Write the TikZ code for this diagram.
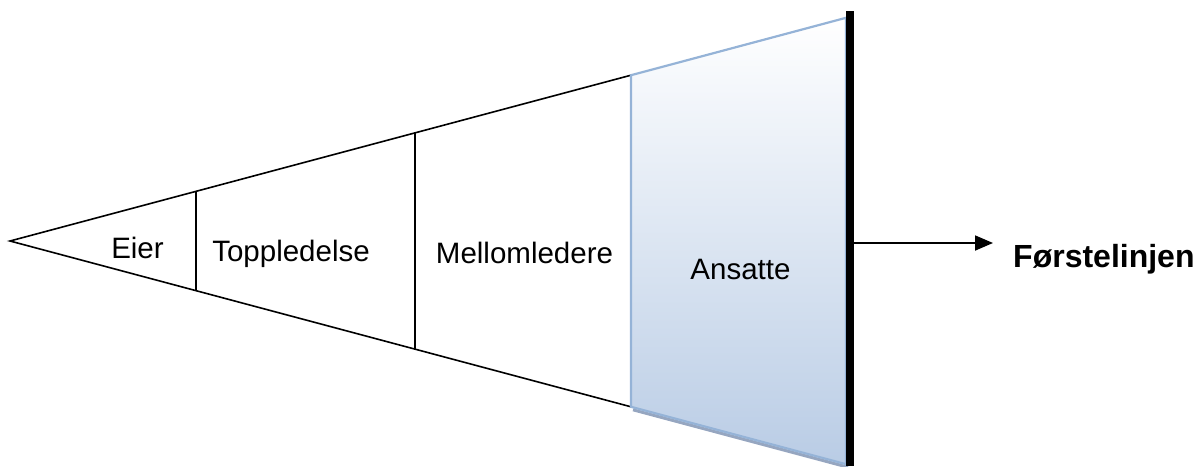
\documentclass[tikz,border=0pt]{standalone}
\usepackage{fontspec}
\setmainfont{Liberation Sans}
\usetikzlibrary{arrows.meta}
\definecolor{edgeblue}{RGB}{149,179,215}
\definecolor{fillblue}{RGB}{185,204,229}
\definecolor{shadowblue}{RGB}{150,166,192}
\begin{document}
\begin{tikzpicture}[x=1pt,y=-1pt,
  outline/.style={draw=black,line width=1.6pt,line join=miter},
  divider/.style={draw=black,line width=1.6pt},
  level/.style={font=\fontsize{29.5}{35}\selectfont,inner sep=0pt,anchor=base},
  result/.style={font=\bfseries\fontsize{32}{38}\selectfont,inner sep=0pt,anchor=base west},
  pointer/.style={draw=black,line width=1.8pt,-{Triangle[length=18pt,width=15pt]}}]
\useasboundingbox (0,0) rectangle (1201,466);

% corners of the wedge and of its sections
\coordinate (apex) at (10,241);
\coordinate (t1) at (196,191.3);  \coordinate (b1) at (196,290.7);
\coordinate (t2) at (415,132.9);  \coordinate (b2) at (415,349.1);
\coordinate (t3) at (631,75.2);   \coordinate (b3) at (631,406.8);
\coordinate (t4) at (846,17.8);   \coordinate (b4) at (846,464.2);

% wedge outline and section dividers
\draw[outline] (t3) -- (apex) -- (b3);
\draw[divider] (t1) -- (b1);
\draw[divider] (t2) -- (b2);

% shaded employee section with its soft shadow
\draw[shadowblue,line width=3pt] ([shift={(2,3)}]b3) -- ([shift={(2,3)}]b4);
\path[top color=white,bottom color=fillblue,draw=edgeblue,line width=2.2pt]
  (t3) -- (t4) -- (b4) -- (b3) -- cycle;

% front line bar
\node[fill=black,inner sep=0pt,minimum width=8pt,minimum height=455.3pt,anchor=north]
  (bar) at (850,10.7) {};

% section labels
\node[level] (eier) at (137.5,258.3) {Eier};
\node[level] (topp) at (291,261.7) {Toppledelse};
\node[level] (mellom) at (524.5,263.3) {Mellomledere};
\node[level] (ansatte) at (740.5,279.3) {Ansatte};

% arrow to the front line label
\coordinate (tip) at (993,243);
\node[result] (front) at (1013,267) {Førstelinjen};
\draw[pointer] (bar.east |- tip) -- (tip);
\end{tikzpicture}
\end{document}
